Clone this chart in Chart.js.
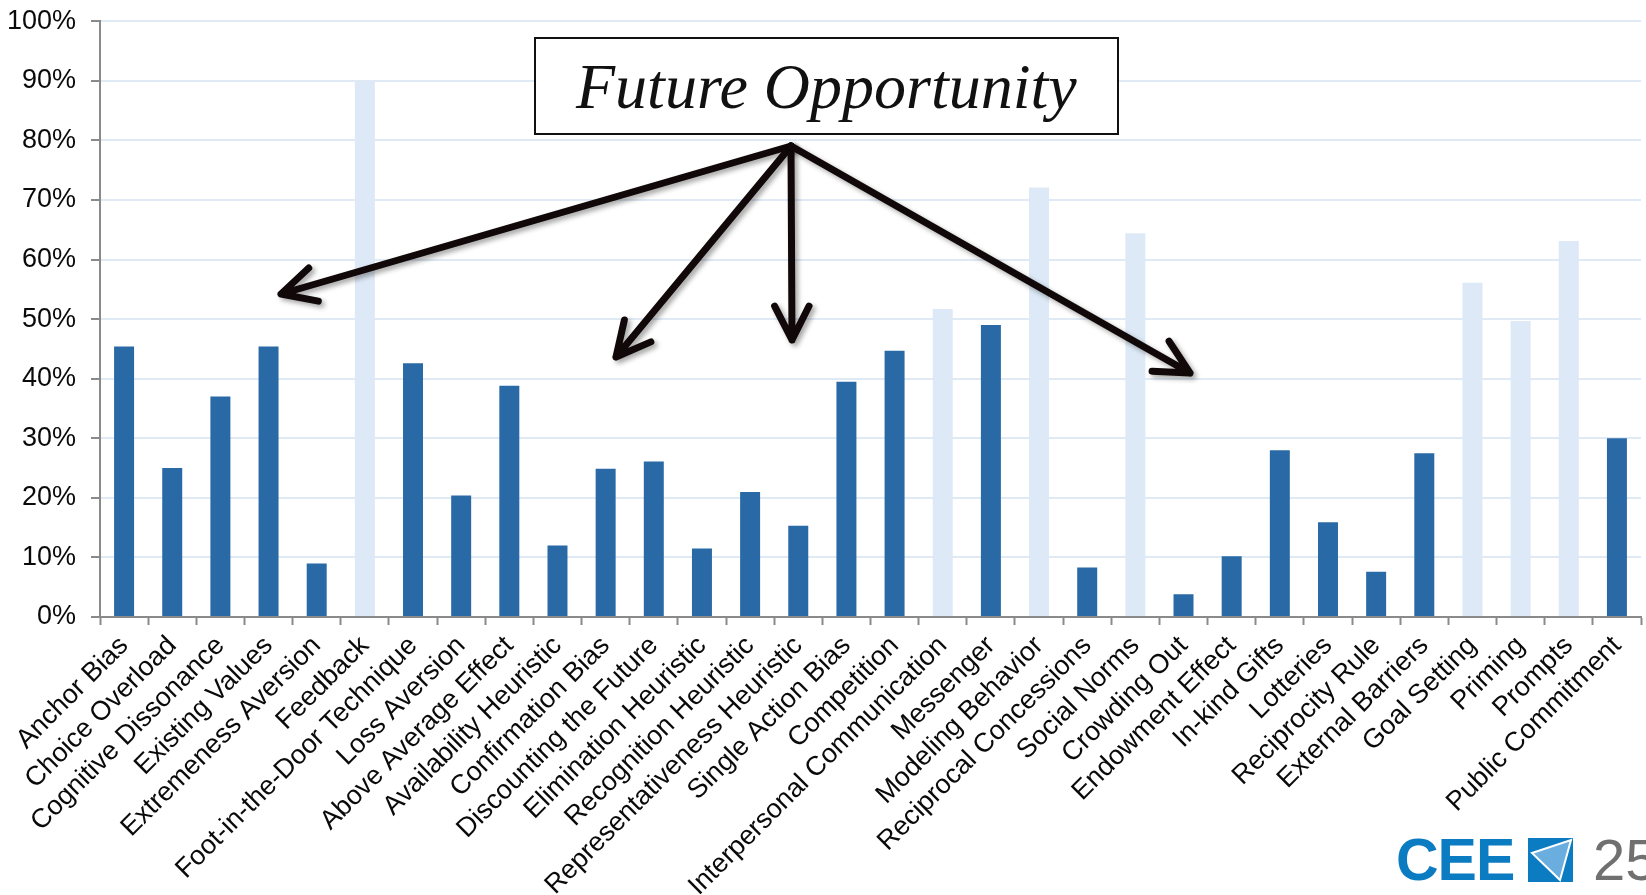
<!DOCTYPE html>
<html lang="en">
<head>
    <meta charset="UTF-8">
    <title>Nudge Usage</title>
    <style>
        body { margin: 0; background: #fff; font-family: "Liberation Sans", Arial, sans-serif; }
        .wrap { position: relative; width: 1646px; height: 895px; overflow: hidden; }
        #chart { position: absolute; left: 0; top: -10px; }
        .callout { position: absolute; left: 534px; top: 37px; width: 581px; height: 94px; border: 2px solid #111; background: #fff;
                   font-family: "Liberation Serif", "Times New Roman", serif; font-style: italic; font-size: 64px; color: #111;
                   box-sizing: content-box; }
        .callout span { position: absolute; left: 40px; top: 11px; white-space: nowrap; }
        .logo { position: absolute; left: 1396px; top: 826px; font-weight: bold; font-size: 59px; color: #0b7cc2; letter-spacing: -1px; }
        .logo-mark { position: absolute; left: 1528px; top: 838px; }
        .page { position: absolute; left: 1593px; top: 826px; font-size: 58px; color: #707070; }
    </style>
</head>
<body>
<div class="wrap">
    <canvas id="chart"></canvas>
    <div class="callout"><span>Future Opportunity</span></div>
    <div class="logo">CEE</div>
    <svg class="logo-mark" width="45" height="44" viewBox="0 0 45 44">
        <rect x="0" y="0" width="45" height="44" fill="#0b7cc2"/>
        <polygon points="4,15 43,2 32,42" fill="#6aaee0" stroke="#fff" stroke-width="2"/>
    </svg>
    <div class="page">25</div>
</div>

<script src="https://cdn.jsdelivr.net/npm/chart.js"></script>
<script>
    const categories = ['Anchor Bias', 'Choice Overload', 'Cognitive Dissonance', 'Existing Values', 'Extremeness Aversion',
        'Feedback', 'Foot-in-the-Door Technique', 'Loss Aversion', 'Above Average Effect', 'Availability Heuristic',
        'Confirmation Bias', 'Discounting the Future', 'Elimination Heuristic', 'Recognition Heuristic',
        'Representativeness Heuristic', 'Single Action Bias', 'Competition', 'Interpersonal Communication', 'Messenger',
        'Modeling Behavior', 'Reciprocal Concessions', 'Social Norms', 'Crowding Out', 'Endowment Effect', 'In-kind Gifts',
        'Lotteries', 'Reciprocity Rule', 'External Barriers', 'Goal Setting', 'Priming', 'Prompts', 'Public Commitment'];

    const usage = [45.4, 25.0, 37.0, 45.4, 9.0, 90.0, 42.6, 20.4, 38.8, 12.0, 24.9, 26.1, 11.5, 21.0, 15.3, 39.5, 44.7,
        51.7, 49.0, 72.1, 8.3, 64.4, 3.8, 10.2, 28.0, 15.9, 7.6, 27.5, 56.1, 49.7, 63.1, 30.0];

    // nudges flagged as future opportunities get the pale colour
    const future = ['Feedback', 'Interpersonal Communication', 'Modeling Behavior', 'Social Norms', 'Goal Setting', 'Priming', 'Prompts'];

    const yTicks = [0, 10, 20, 30, 40, 50, 60, 70, 80, 90, 100];

    const DARK = '#2969a6';
    const PALE = '#dde9f6';

    // canvas sits 10px above the page, so arrow coords are shifted by that
    const SHIFT = 10;
    const arrowStart = [791, 146 + SHIFT];
    const arrowTips = [[281, 294 + SHIFT], [616, 357 + SHIFT], [792, 340 + SHIFT], [1190, 373 + SHIFT]];

    const arrowPlugin = {
        id: 'arrows',
        afterDraw(chart) {
            const ctx = chart.ctx;
            ctx.save();
            ctx.strokeStyle = '#110909';
            ctx.lineWidth = 7;
            ctx.lineCap = 'round';
            ctx.lineJoin = 'round';
            ctx.shadowColor = 'rgba(0,0,0,0.35)';
            ctx.shadowBlur = 5;
            ctx.shadowOffsetX = 3;
            ctx.shadowOffsetY = 3;
            arrowTips.forEach(([tx, ty]) => {
                const [sx, sy] = arrowStart;
                const ang = Math.atan2(ty - sy, tx - sx);
                const len = 38, spread = 0.47;
                ctx.beginPath();
                ctx.moveTo(sx, sy);
                ctx.lineTo(tx, ty);
                ctx.moveTo(tx - len * Math.cos(ang - spread), ty - len * Math.sin(ang - spread));
                ctx.lineTo(tx, ty);
                ctx.lineTo(tx - len * Math.cos(ang + spread), ty - len * Math.sin(ang + spread));
                ctx.stroke();
            });
            ctx.restore();
        }
    };

    const canvas = document.getElementById('chart');
    canvas.width = 1646;
    canvas.height = 895 + SHIFT;

    new Chart(canvas.getContext('2d'), {
        type: 'bar',
        data: {
            labels: categories,
            datasets: [{
                data: usage,
                backgroundColor: categories.map(c => future.includes(c) ? PALE : DARK),
                barPercentage: 0.415,
                categoryPercentage: 1.0
            }]
        },
        options: {
            responsive: false,
            animation: false,
            layout: { padding: { left: 8, right: 5, top: 0, bottom: 0 } },
            plugins: { legend: { display: false }, tooltip: { enabled: false } },
            scales: {
                x: {
                    ticks: {
                        color: '#0a0a0a',
                        font: { family: '"Liberation Sans", Arial', size: 27 },
                        maxRotation: 45,
                        minRotation: 45,
                        autoSkip: false,
                        padding: 5
                    },
                    afterFit: axis => { axis.height = 278; },
                    grid: { drawOnChartArea: false, drawTicks: true, tickLength: 8, tickColor: '#8a8a8a', tickWidth: 2 },
                    border: { color: '#8a8a8a', width: 2 }
                },
                y: {
                    min: 0,
                    max: 100,
                    afterBuildTicks: axis => { axis.ticks = yTicks.map(v => ({ value: v })); },
                    afterFit: axis => { axis.width = 92; },
                    ticks: {
                        color: '#0a0a0a',
                        font: { family: '"Liberation Sans", Arial', size: 27 },
                        padding: 15,
                        callback: v => v + '%'
                    },
                    grid: { color: '#e0eaf5', lineWidth: 2, tickLength: 9, tickColor: '#8a8a8a', tickWidth: 2 },
                    border: { color: '#8a8a8a', width: 2 }
                }
            }
        },
        plugins: [arrowPlugin]
    });
</script>
</body>
</html>
